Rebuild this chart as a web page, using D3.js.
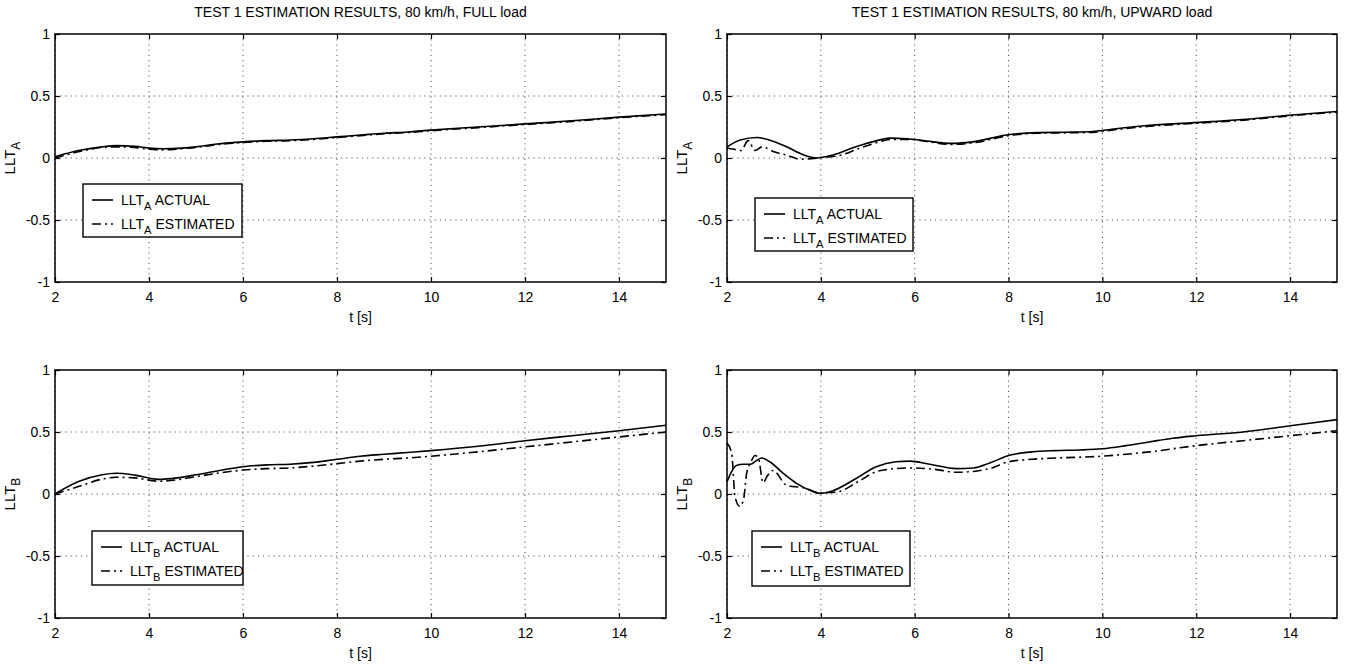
<!DOCTYPE html>
<html lang="en">
<head>
<meta charset="UTF-8">
<title>Test 1 estimation results</title>
<script src="https://d3js.org/d3.v7.min.js"></script>
<style>
body { margin: 0; background: #fff; }
svg { font-family: "Liberation Sans Narrow", "Arial Narrow", "Liberation Sans", Arial, sans-serif; }
.grid line { stroke: #555; stroke-width: 1; stroke-dasharray: 1.2,4; }
.frame { fill: none; stroke: #000; stroke-width: 1.5; }
.tick line { stroke: #000; stroke-width: 1.2; }
.actual { fill: none; stroke: #000; stroke-width: 1.6; }
.estimated { fill: none; stroke: #000; stroke-width: 1.6; stroke-dasharray: 9,4,2,4; }
.legend rect { fill: #fff; stroke: #000; stroke-width: 1.4; }
</style>
</head>
<body>
<script>
// ---- data ----
var titles = ["TEST 1 ESTIMATION RESULTS, 80 km/h, FULL load",
              "TEST 1 ESTIMATION RESULTS, 80 km/h, UPWARD load"];
var xTicks = [2, 4, 6, 8, 10, 12, 14];
var yTicks = [-1, -0.5, 0, 0.5, 1];
var yTickLabels = ["-1", "-0.5", "0", "0.5", "1"];

// LLT_A, full load
var tFullA = [2, 2.5, 3, 3.3, 3.7, 4, 4.3, 4.7, 5, 5.5, 6, 6.5, 7, 7.5, 8, 8.5, 9, 9.5, 10, 11, 12, 13, 14, 15];
var fullA_actual = [0.01, 0.06, 0.09, 0.10, 0.095, 0.08, 0.075, 0.08, 0.09, 0.115, 0.13, 0.14, 0.145, 0.155, 0.17, 0.185, 0.2, 0.21, 0.225, 0.25, 0.275, 0.3, 0.33, 0.355];
var fullA_est    = [0.0, 0.05, 0.085, 0.09, 0.085, 0.07, 0.065, 0.075, 0.085, 0.11, 0.125, 0.135, 0.14, 0.15, 0.165, 0.18, 0.195, 0.205, 0.22, 0.245, 0.27, 0.295, 0.325, 0.35];

// LLT_A, upward load
var tUpA_actual = [2, 2.28, 2.64, 2.9, 3.27, 3.6, 3.9, 4.26, 4.7, 5.1, 5.47, 5.83, 6.25, 6.8, 7.23, 7.95, 8.6, 9.2, 9.72, 10.2, 10.94, 11.96, 12.98, 13.98, 15];
var upA_actual  = [0.09, 0.145, 0.165, 0.145, 0.09, 0.03, 0.0, 0.025, 0.085, 0.13, 0.16, 0.155, 0.137, 0.118, 0.13, 0.185, 0.205, 0.208, 0.212, 0.232, 0.262, 0.285, 0.31, 0.345, 0.375];
var tUpA_est = [2, 2.15, 2.3, 2.45, 2.6, 2.75, 3.0, 3.3, 3.55, 3.8, 4.05, 4.4, 4.8, 5.2, 5.5, 5.9, 6.3, 6.8, 7.3, 8, 8.6, 9.2, 9.8, 10.2, 11, 12, 13, 14, 15];
var upA_est  = [0.08, 0.07, 0.06, 0.14, 0.06, 0.09, 0.05, 0.02, -0.01, -0.005, 0.005, 0.02, 0.075, 0.125, 0.15, 0.15, 0.13, 0.11, 0.125, 0.18, 0.2, 0.203, 0.207, 0.225, 0.256, 0.28, 0.305, 0.34, 0.37];

// LLT_B, full load
var tFullB = [2, 2.5, 3, 3.3, 3.7, 4.2, 4.6, 5, 5.5, 6, 6.5, 7, 7.5, 8, 8.5, 9, 9.5, 10, 11, 12, 13, 14, 15];
var fullB_actual = [0, 0.1, 0.155, 0.167, 0.152, 0.118, 0.13, 0.155, 0.19, 0.22, 0.235, 0.24, 0.255, 0.28, 0.305, 0.32, 0.335, 0.35, 0.385, 0.43, 0.47, 0.51, 0.555];
var fullB_est    = [0, 0.06, 0.12, 0.135, 0.13, 0.103, 0.115, 0.14, 0.17, 0.193, 0.205, 0.21, 0.225, 0.245, 0.265, 0.28, 0.29, 0.305, 0.34, 0.38, 0.42, 0.46, 0.5];

// LLT_B, upward load
var tUpB_actual = [2, 2.2, 2.35, 2.5, 2.63, 2.74, 2.91, 3.2, 3.48, 3.77, 3.98, 4.26, 4.76, 5.18, 5.6, 5.9, 6.32, 6.89, 7.25, 7.6, 8, 8.5, 9, 9.5, 10, 10.5, 11, 11.5, 12, 13, 14, 15];
var upB_actual  = [0.1, 0.23, 0.24, 0.24, 0.27, 0.29, 0.26, 0.166, 0.086, 0.03, 0.005, 0.027, 0.127, 0.22, 0.26, 0.265, 0.24, 0.205, 0.21, 0.25, 0.31, 0.34, 0.35, 0.355, 0.365, 0.39, 0.42, 0.45, 0.47, 0.5, 0.55, 0.6];
var tUpB_est = [2, 2.1, 2.17, 2.27, 2.35, 2.42, 2.5, 2.6, 2.67, 2.77, 2.85, 2.98, 3.27, 3.63, 3.98, 4.33, 4.8, 5.18, 5.6, 5.9, 6.4, 6.9, 7.6, 8, 8.5, 9, 10, 11, 12, 13, 14, 15];
var upB_est  = [0.41, 0.33, -0.02, -0.1, -0.05, 0.17, 0.25, 0.31, 0.29, 0.09, 0.14, 0.19, 0.07, 0.05, 0.01, 0.015, 0.1, 0.18, 0.205, 0.21, 0.2, 0.175, 0.205, 0.26, 0.28, 0.29, 0.305, 0.34, 0.39, 0.43, 0.47, 0.51];

// ---- layout ----
var W = 1347, H = 665;
var panels = [
  { x0: 55,  x1: 666,  y0: 34,  y1: 282, sub: "A", title: titles[0], ylx: 15,
    actual: [tFullA, fullA_actual], est: [tFullA, fullA_est], lg: [83, 184, 159, 53] },
  { x0: 727, x1: 1337, y0: 34,  y1: 282, sub: "A", title: titles[1], ylx: 687,
    actual: [tUpA_actual, upA_actual], est: [tUpA_est, upA_est], lg: [755, 198, 158, 53] },
  { x0: 55,  x1: 666,  y0: 370, y1: 618, sub: "B", title: null, ylx: 15,
    actual: [tFullB, fullB_actual], est: [tFullB, fullB_est], lg: [92, 531, 151, 54] },
  { x0: 727, x1: 1337, y0: 370, y1: 618, sub: "B", title: null, ylx: 687,
    actual: [tUpB_actual, upB_actual], est: [tUpB_est, upB_est], lg: [752, 531, 158, 55] }
];

var svg = d3.select("body").append("svg")
    .attr("width", W)
    .attr("height", H);

// LLT with a subscript letter
function llt(sel, sub, rest) {
  sel.append("tspan").text("LLT");
  sel.append("tspan").attr("dy", 5).style("font-size", "0.8em").text(sub);
  if (rest) sel.append("tspan").attr("dy", -5).text(" " + rest);
}

panels.forEach(function(p) {
  var x = d3.scaleLinear().domain([2, 15]).range([p.x0, p.x1]);
  var y = d3.scaleLinear().domain([-1, 1]).range([p.y1, p.y0]);
  var g = svg.append("g");

  // dotted grid
  var grid = g.append("g").attr("class", "grid");
  grid.selectAll(".gx").data(xTicks).enter().append("line")
      .attr("x1", function(d) { return x(d); }).attr("x2", function(d) { return x(d); })
      .attr("y1", p.y0).attr("y2", p.y1);
  grid.selectAll(".gy").data(yTicks.slice(1, -1)).enter().append("line")
      .attr("x1", p.x0).attr("x2", p.x1)
      .attr("y1", function(d) { return y(d); }).attr("y2", function(d) { return y(d); });

  // axes, ticks inside (matlab style, box on)
  var tick = 5;
  g.append("g").attr("transform", "translate(0," + p.y1 + ")")
      .call(d3.axisBottom(x).tickValues(xTicks).tickSizeInner(-tick).tickSizeOuter(0).tickPadding(10))
      .call(function(a) { a.select(".domain").remove(); })
      .selectAll("text").style("font-size", "14px").attr("fill", "#000");
  g.append("g").attr("transform", "translate(0," + p.y0 + ")")
      .call(d3.axisTop(x).tickValues(xTicks).tickSizeInner(-tick).tickSizeOuter(0).tickFormat(""))
      .call(function(a) { a.select(".domain").remove(); });
  g.append("g").attr("transform", "translate(" + p.x0 + ",0)")
      .call(d3.axisLeft(y).tickValues(yTicks).tickSizeInner(-tick).tickSizeOuter(0).tickPadding(5)
            .tickFormat(function(d, i) { return yTickLabels[i]; }))
      .call(function(a) { a.select(".domain").remove(); })
      .selectAll("text").style("font-size", "14px").attr("fill", "#000");
  g.append("g").attr("transform", "translate(" + p.x1 + ",0)")
      .call(d3.axisRight(y).tickValues(yTicks).tickSizeInner(-tick).tickSizeOuter(0).tickFormat(""))
      .call(function(a) { a.select(".domain").remove(); });

  g.append("rect").attr("class", "frame")
      .attr("x", p.x0).attr("y", p.y0)
      .attr("width", p.x1 - p.x0).attr("height", p.y1 - p.y0);

  // series
  var line = d3.line()
      .x(function(d) { return x(d[0]); })
      .y(function(d) { return y(d[1]); })
      .curve(d3.curveMonotoneX);
  g.append("path").attr("class", "actual")
      .attr("d", line(d3.zip(p.actual[0], p.actual[1])));
  g.append("path").attr("class", "estimated")
      .attr("d", line(d3.zip(p.est[0], p.est[1])));

  // titles and axis labels
  if (p.title) {
    g.append("text")
        .attr("x", (p.x0 + p.x1) / 2).attr("y", 17)
        .attr("text-anchor", "middle")
        .style("font-size", "14px")
        .text(p.title);
  }
  g.append("text")
      .attr("x", (p.x0 + p.x1) / 2).attr("y", p.y1 + 40)
      .attr("text-anchor", "middle")
      .style("font-size", "14px")
      .text("t [s]");
  var yl = g.append("text")
      .attr("transform", "translate(" + p.ylx + "," + ((p.y0 + p.y1) / 2) + ") rotate(-90)")
      .attr("text-anchor", "middle")
      .style("font-size", "15px");
  llt(yl, p.sub);

  // legend
  var lg = g.append("g").attr("class", "legend")
      .attr("transform", "translate(" + p.lg[0] + "," + p.lg[1] + ")");
  lg.append("rect").attr("width", p.lg[2]).attr("height", p.lg[3]);
  [["actual", "ACTUAL"], ["estimated", "ESTIMATED"]].forEach(function(e, i) {
    var yy = 16 + i * 24;
    lg.append("line").attr("class", e[0])
        .attr("x1", 9).attr("x2", 30).attr("y1", yy).attr("y2", yy);
    var t = lg.append("text").attr("x", 38).attr("y", yy + 5).style("font-size", "14px");
    llt(t, p.sub, e[1]);
  });
});
</script>
</body>
</html>
